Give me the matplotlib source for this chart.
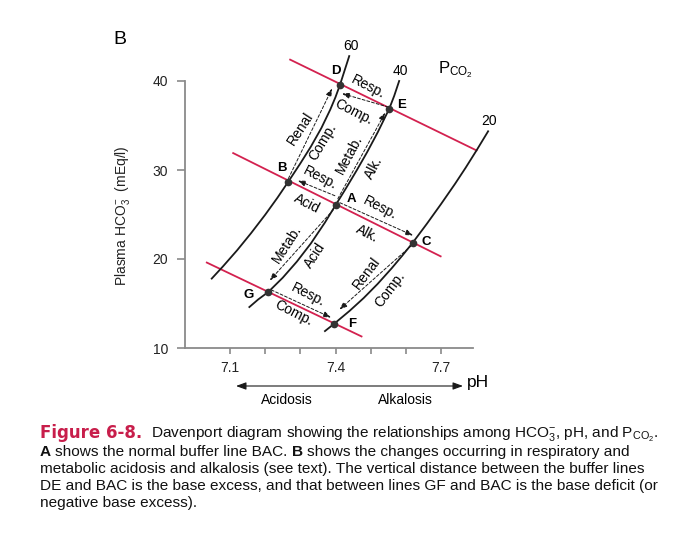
import matplotlib
matplotlib.use("Agg")
import matplotlib.pyplot as plt
import matplotlib.transforms as mtransforms

# --- data (pH, plasma HCO3 mEq/l) ---
# Pco2 isopleths
iso60_ph = [7.048, 7.08, 7.12, 7.16, 7.20, 7.235, 7.266, 7.30, 7.33, 7.36, 7.385, 7.40, 7.413, 7.439]
iso60_hco3 = [17.8, 19.17, 20.97, 22.91, 24.97, 26.89, 28.7, 30.74, 32.63, 34.73, 36.78, 38.19, 39.6, 42.8]
iso40_ph = [7.155, 7.18, 7.209, 7.25, 7.29, 7.33, 7.37, 7.401, 7.43, 7.46, 7.49, 7.52, 7.553, 7.567, 7.581]
iso40_hco3 = [14.6, 15.45, 16.3, 17.9, 19.7, 21.75, 24.1, 26.1, 27.96, 29.94, 32.01, 34.23, 36.9, 38.34, 40.0]
iso20_ph = [7.370, 7.397, 7.44, 7.48, 7.52, 7.56, 7.59, 7.619, 7.66, 7.70, 7.74, 7.77, 7.801, 7.834]
iso20_hco3 = [11.9, 12.75, 14.17, 15.61, 17.21, 18.97, 20.38, 21.8, 23.97, 26.17, 28.45, 30.25, 32.2, 34.35]
iso_names = ["60", "40", "20"]

# buffer lines (DE, BAC, GF)
buf_de_ph = [7.271, 7.801]
buf_de_hco3 = [42.4, 32.2]
buf_bac_ph = [7.109, 7.699]
buf_bac_hco3 = [31.9, 20.3]
buf_gf_ph = [7.034, 7.474]
buf_gf_hco3 = [19.6, 11.3]

# labelled states
point_names = ["A", "B", "C", "D", "E", "F", "G"]
point_ph = [7.401, 7.266, 7.619, 7.413, 7.553, 7.397, 7.209]
point_hco3 = [26.1, 28.7, 21.8, 39.6, 36.9, 12.75, 16.3]

# transitions drawn as dashed arrows (from, to)
moves = [("A", "B"), ("A", "C"), ("G", "F"), ("E", "D"),
         ("B", "D"), ("A", "E"), ("A", "G"), ("C", "F")]

x_ticks = [7.1, 7.2, 7.3, 7.4, 7.5, 7.6, 7.7]
x_ticklabels = ["7.1", "", "", "7.4", "", "", "7.7"]
y_ticks = [10, 20, 30, 40]

W, H = 675, 547
RED = "#d3214f"
INK = "#1a1a1a"
CAP_FONT = "Liberation Sans"

plt.rcParams["font.family"] = ["Liberation Sans", "DejaVu Sans"]
plt.rcParams["mathtext.fontset"] = "custom"
plt.rcParams["mathtext.rm"] = "Liberation Sans"
plt.rcParams["mathtext.it"] = "Liberation Sans:italic"
plt.rcParams["mathtext.bf"] = "Liberation Sans:bold"


def fx(px):
    return px / W


def fy(py):
    return 1 - py / H


fig = plt.figure(figsize=(W / 100, H / 100), dpi=100)
ax = fig.add_axes([fx(185), fy(348), (473 - 185) / W, (348 - 81) / H])
ax.set_xlim(6.972, 7.791)
ax.set_ylim(10, 40)

# isopleths
for ph, hc in [(iso60_ph, iso60_hco3), (iso40_ph, iso40_hco3), (iso20_ph, iso20_hco3)]:
    ax.plot(ph, hc, color=INK, lw=1.3, clip_on=False, zorder=3, solid_joinstyle="round")
iso_tops = [(iso60_ph[-1], iso60_hco3[-1]), (iso40_ph[-1], iso40_hco3[-1]), (iso20_ph[-1], iso20_hco3[-1])]
for name, (px_, hy) in zip(iso_names, iso_tops):
    ax.annotate(name, (px_, hy), xytext=(1, 7.5), textcoords="offset points",
                ha="center", va="center", fontsize=10, annotation_clip=False)

# buffer lines
for ph, hc in [(buf_de_ph, buf_de_hco3), (buf_bac_ph, buf_bac_hco3), (buf_gf_ph, buf_gf_hco3)]:
    ax.plot(ph, hc, color=RED, lw=1.3, clip_on=False, zorder=2)

# points + letters
ax.plot(point_ph, point_hco3, "o", ms=4.5, color="#333333", clip_on=False, zorder=5)
letter_off = {"A": (11, 4), "B": (-5, 9.5), "C": (10, 0.5), "D": (-3, 9.5),
              "E": (9, 2.5), "F": (12.5, 0), "G": (-14, -2.5)}
pts = dict(zip(point_names, zip(point_ph, point_hco3)))
for n in point_names:
    ax.annotate(n, pts[n], xytext=letter_off[n], textcoords="offset points",
                ha="center", va="center", fontsize=9.5, fontweight="bold",
                annotation_clip=False)

# dashed arrows: tail / head nudged off the points (pixels, y up)
arrow_nudge = {
    ("A", "B"): ((-1, 9), (9.5, 1)),
    ("A", "C"): ((4, 2), (0.5, 7.5)),
    ("G", "F"): ((3, 2), (-3.5, 6)),
    ("E", "D"): ((-1, 1.5), (2, -9)),
    ("B", "D"): ((0, 3), (-8, -4)),
    ("A", "E"): ((2, 6), (-4, -4)),
    ("A", "G"): ((-2.5, -5), (1.5, 11.5)),
    ("C", "F"): ((-1, -2.5), (5, 14)),
}
for a, b in moves:
    (tx, ty), (hx, hy) = arrow_nudge[(a, b)]
    tr_tail = mtransforms.offset_copy(ax.transData, fig=fig, x=tx, y=ty, units="dots")
    tr_head = mtransforms.offset_copy(ax.transData, fig=fig, x=hx, y=hy, units="dots")
    ax.annotate("", xy=pts[b], xycoords=tr_head, xytext=pts[a], textcoords=tr_tail,
                arrowprops=dict(arrowstyle="-|>,head_length=0.45,head_width=0.17",
                                color=INK, lw=0.7, linestyle=(0, (3, 2)),
                                shrinkA=0, shrinkB=0),
                annotation_clip=False, zorder=4)

# path labels (pH, HCO3, text, rotation)
labels = [
    (7.299, 34.7, "Renal", 57), (7.363, 33.1, "Comp.", 59),
    (7.493, 39.36, "Resp.", -27), (7.451, 36.55, "Comp.", -27),
    (7.438, 31.7, "Metab.", 62), (7.509, 30.2, "Alk.", 62),
    (7.356, 29.07, "Resp.", -27), (7.318, 26.26, "Acid", -27),
    (7.526, 25.7, "Resp.", -27), (7.489, 22.89, "Alk.", -27),
    (7.263, 21.69, "Metab.", 57), (7.342, 20.45, "Acid", 57),
    (7.489, 18.39, "Renal", 53), (7.555, 16.52, "Comp.", 53),
    (7.323, 15.96, "Resp.", -27), (7.28, 13.9, "Comp.", -27),
]
for lx, ly, s, rot in labels:
    ax.text(lx, ly, s, rotation=rot, rotation_mode="anchor", ha="center",
            va="center", fontsize=10, clip_on=False)

# axes styling
for s in ["top", "right"]:
    ax.spines[s].set_visible(False)
for s in ["left", "bottom"]:
    ax.spines[s].set_color("#8a8a8a")
    ax.spines[s].set_linewidth(1.3)
ax.set_xticks(x_ticks)
ax.set_xticklabels(x_ticklabels)
ax.set_yticks(y_ticks)
ax.tick_params(colors="#8a8a8a", labelcolor="#222222", labelsize=10, width=1.2)
ax.tick_params(axis="y", length=6, pad=6)
ax.tick_params(axis="x", length=4.5, pad=5)

fig.text(fx(122.5), fy(216), "Plasma HCO$_3^{-}$  (mEq/l)", rotation=90,
         ha="center", va="center", fontsize=10, color="#222222")
fig.text(fx(120), fy(40), "B", ha="center", va="center", fontsize=14)
fig.text(fx(455), fy(70), r"P$_{\mathrm{CO}_2}$", ha="center", va="center", fontsize=12)

ax.annotate("", xy=(fx(463), fy(386)), xycoords="figure fraction",
            xytext=(fx(236), fy(386)), textcoords="figure fraction",
            arrowprops=dict(arrowstyle="<|-|>,head_length=0.6,head_width=0.22",
                            color=INK, lw=0.8, shrinkA=0, shrinkB=0),
            annotation_clip=False)
fig.text(fx(478), fy(383), "pH", ha="center", va="center", fontsize=12.5)
fig.text(fx(287), fy(400), "Acidosis", ha="center", va="center", fontsize=10)
fig.text(fx(405), fy(400), "Alkalosis", ha="center", va="center", fontsize=10)

# caption
renderer = fig.canvas.get_renderer()


def text_width(s, **kw):
    t = fig.text(0, 0, s, **kw)
    w = t.get_window_extent(renderer).width
    t.remove()
    return w


cap_lines = [
    "Davenport diagram showing the relationships among HCO$_3^{-}$, pH, and P$_{\\mathrm{CO}_2}$.",
    "shows the normal buffer line BAC.",
    "shows the changes occurring in respiratory and",
    "metabolic acidosis and alkalosis (see text). The vertical distance between the buffer lines",
    "DE and BAC is the base excess, and that between lines GF and BAC is the base deficit (or",
    "negative base excess).",
]
cap_size = 10 * 622 / text_width(cap_lines[4], fontsize=10, family=CAP_FONT)
fig_size = 11 * 102 / text_width("Figure 6-8.", fontsize=11, fontweight="bold", family="DejaVu Sans")
space = 0.27 * cap_size * 100 / 72


def runs_line(y_px, runs):
    x = 40
    for s, kw in runs:
        if s == " ":
            x += space
            continue
        t = fig.text(fx(x), fy(y_px), s, va="baseline", ha="left", **kw)
        x += t.get_window_extent(renderer).width


plain = dict(fontsize=cap_size, color="#111111", family=CAP_FONT)
bold = dict(fontsize=cap_size, color="#111111", fontweight="bold", family=CAP_FONT)
runs_line(438, [("Figure 6-8.", dict(fontsize=fig_size, color="#c81e4b", fontweight="bold",
                                     family="DejaVu Sans")), (" ", None), (" ", None),
                (cap_lines[0], plain)])
runs_line(456, [("A", bold), (" ", None), (cap_lines[1], plain), (" ", None), ("B", bold),
                (" ", None), (cap_lines[2], plain)])
runs_line(473, [(cap_lines[3], plain)])
runs_line(490, [(cap_lines[4], plain)])
runs_line(507, [(cap_lines[5], plain)])

fig.savefig("out.png", dpi=100)
